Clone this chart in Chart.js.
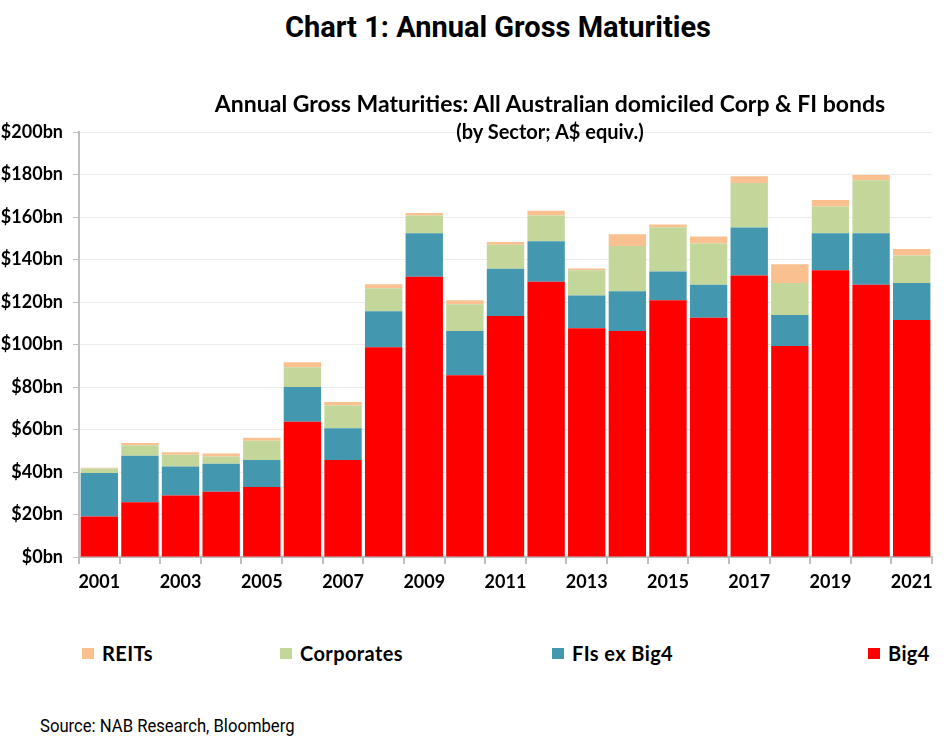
<!DOCTYPE html>
<html>
<head>
<meta charset="utf-8">
<title>Chart 1: Annual Gross Maturities</title>
<script src="https://cdn.jsdelivr.net/npm/chart.js@4.4.0/dist/chart.umd.min.js"></script>
<style>
  html, body { margin: 0; padding: 0; background: #fff; }
  #page { position: relative; width: 948px; height: 751px; overflow: hidden; }
  #heading {
    position: absolute; left: 0; top: 10px; width: 996px; text-align: center;
    font: 700 29px Roboto, sans-serif; line-height: 34px; color: #000;
  }
  .inner {
    position: absolute; left: 0; width: 1100px; text-align: center;
    font-family: Lato, sans-serif; font-weight: 700; color: #000;
  }
  #innerTitle { top: 89px; font-size: 23px; line-height: 28px; }
  #innerSub { top: 118px; font-size: 20px; line-height: 26px; }
  #chartBox { position: absolute; left: 0; top: 0; width: 948px; height: 610px; }
  #legend { position: absolute; left: 0; top: 641px; width: 948px; height: 26px; }
  .item {
    position: absolute; top: 0; white-space: nowrap; line-height: 26px;
    font: 700 20px Lato, sans-serif; letter-spacing: 0.4px; color: #000;
  }
  .swatch { position: absolute; top: 648px; width: 12px; height: 11px; }
  #source {
    position: absolute; left: 40px; top: 715px; white-space: nowrap;
    font: 400 18.5px Roboto, sans-serif; color: #000;
    transform: scaleX(0.9); transform-origin: left center;
  }
</style>
</head>
<body>
<div id="page">
  <div id="heading">Chart 1: Annual Gross Maturities</div>
  <div id="chartBox"><canvas id="myChart"></canvas></div>
  <div id="innerTitle" class="inner">Annual Gross Maturities: All Australian domiciled Corp &amp; FI bonds</div>
  <div id="innerSub" class="inner">(by Sector; A$ equiv.)</div>
  <div id="legend"></div>
  <div id="source">Source: NAB Research, Bloomberg</div>
</div>
<script>
const years = ["2001", "2002", "2003", "2004", "2005", "2006", "2007", "2008", "2009", "2010", "2011",
  "2012", "2013", "2014", "2015", "2016", "2017", "2018", "2019", "2020", "2021"];

// A$bn
const big4 = [19.1, 25.8, 29.0, 30.7, 32.9, 63.7, 45.7, 98.7, 131.9, 85.5, 113.4,
  129.5, 107.6, 106.3, 120.8, 112.6, 132.5, 99.3, 135.0, 128.1, 111.5];
const fisExBig4 = [20.4, 21.8, 13.6, 13.2, 12.8, 16.3, 14.9, 17.0, 20.5, 20.8, 22.2,
  19.1, 15.5, 18.8, 13.6, 15.5, 22.6, 14.6, 17.4, 24.3, 17.4];
const corporates = [2.2, 5.0, 5.5, 3.4, 9.0, 9.3, 10.7, 10.8, 8.3, 12.6, 11.3,
  12.1, 11.9, 21.3, 20.8, 19.4, 20.9, 15.0, 12.5, 24.9, 13.0];
const reits = [0.3, 1.1, 1.2, 1.4, 1.4, 2.3, 1.7, 1.9, 1.2, 1.9, 1.3,
  2.3, 0.8, 5.5, 1.3, 3.3, 3.2, 8.9, 3.1, 2.5, 3.1];

const yTicks = [0, 20, 40, 60, 80, 100, 120, 140, 160, 180, 200];

const RED = "#FF0000";
const TEAL = "#4398B0";
const GREEN = "#C4D79B";
const PEACH = "#FAC090";

const datasets = [
  { label: "Big4", data: big4, backgroundColor: RED },
  { label: "FIs ex Big4", data: fisExBig4, backgroundColor: TEAL },
  { label: "Corporates", data: corporates, backgroundColor: GREEN },
  { label: "REITs", data: reits, backgroundColor: PEACH },
];

const axisFont = { family: "Lato", size: 18, weight: "bold" };

const config = {
  type: "bar",
  data: { labels: years, datasets: datasets },
  options: {
    responsive: true,
    maintainAspectRatio: false,
    animation: false,
    layout: { padding: { top: 132, right: 16, bottom: 13, left: 0 } },
    datasets: {
      bar: { barPercentage: 1, categoryPercentage: 0.92, borderWidth: 0 },
    },
    plugins: {
      legend: { display: false },
      tooltip: { enabled: false },
    },
    scales: {
      x: {
        stacked: true,
        afterFit: (scale) => { scale.height = 40; },
        border: { color: "#bfbfbf", width: 2 },
        grid: {
          offset: true,
          drawOnChartArea: false,
          tickLength: 7,
          tickColor: "#bfbfbf",
          lineWidth: 2,
        },
        ticks: {
          autoSkip: false,
          maxRotation: 0,
          padding: 7,
          color: "#000",
          font: axisFont,
          callback: function (val, i) {
            return i % 2 === 0 ? this.getLabelForValue(val) : "";
          },
        },
      },
      y: {
        stacked: true,
        min: yTicks[0],
        max: yTicks[yTicks.length - 1],
        afterFit: (scale) => { scale.width = 79; },
        afterBuildTicks: (scale) => { scale.ticks = yTicks.map((v) => ({ value: v })); },
        border: { color: "#bfbfbf", width: 2 },
        grid: {
          color: "#ececec",
          tickColor: "#bfbfbf",
          tickLength: 6,
        },
        ticks: {
          padding: 10,
          color: "#000",
          font: axisFont,
          callback: (v) => "$" + v + "bn",
        },
      },
    },
  },
};

new Chart(document.getElementById("myChart").getContext("2d"), config);

// legend, spread out like the original (REITs first)
const legendBoxX = [82, 280, 552, 868];
const legendTextX = [102, 300, 572, 888];
const page = document.getElementById("page");
const legendBox = document.getElementById("legend");
datasets.slice().reverse().forEach((ds, i) => {
  const sw = document.createElement("div");
  sw.className = "swatch";
  sw.style.left = legendBoxX[i] + "px";
  sw.style.background = ds.backgroundColor;
  page.appendChild(sw);
  const el = document.createElement("div");
  el.className = "item";
  el.style.left = legendTextX[i] + "px";
  el.textContent = ds.label;
  legendBox.appendChild(el);
});
</script>
</body>
</html>
